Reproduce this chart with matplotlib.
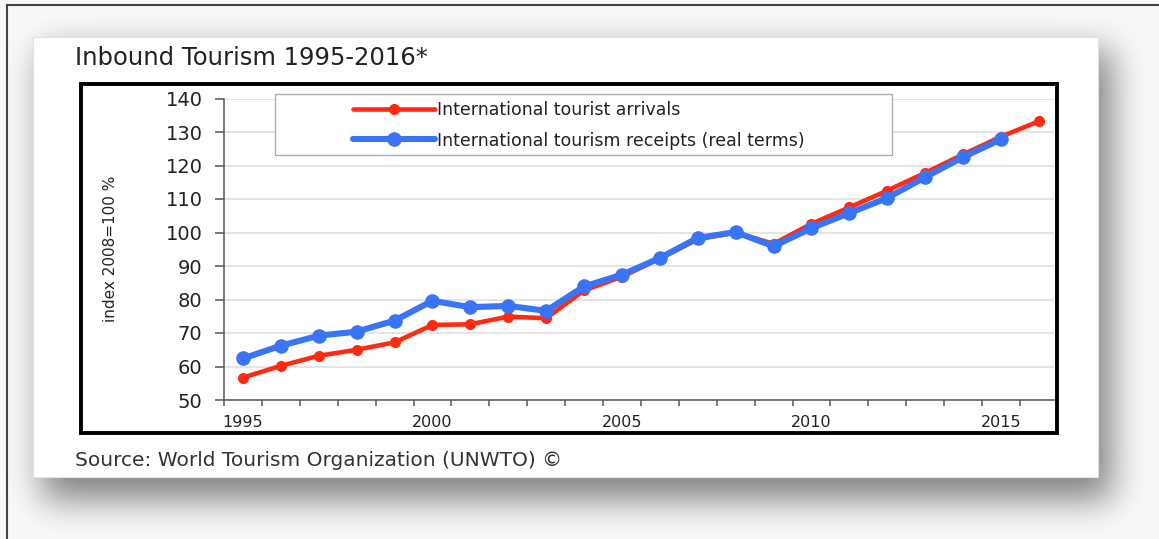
import numpy as np
import matplotlib
matplotlib.use("Agg")
import matplotlib.pyplot as plt
from matplotlib.patches import Rectangle
from matplotlib.lines import Line2D

# ---------------- data ----------------
years = list(range(1995, 2017))
arrivals = [56.7, 60.2, 63.2, 65.0, 67.2, 72.4, 72.6, 74.9, 74.4, 82.7, 86.8,
            92.2, 98.0, 100.0, 96.6, 102.6, 107.5, 112.5, 117.8, 123.3, 128.6, 133.2]
receipt_years = list(range(1995, 2016))
receipts = [62.4, 66.2, 69.2, 70.4, 73.7, 79.6, 77.7, 78.1, 76.6, 83.9, 87.4,
            92.4, 98.4, 100.1, 95.9, 101.3, 105.8, 110.3, 116.5, 122.5, 127.8]
series_labels = ["International tourist arrivals",
                 "International tourism receipts (real terms)"]
y_ticks = [50, 60, 70, 80, 90, 100, 110, 120, 130, 140]
x_tick_labels = [1995, 2000, 2005, 2010, 2015]
title = "Inbound Tourism 1995-2016*"
source = "Source: World Tourism Organization (UNWTO) \u00a9"
ylabel = "index 2008=100 %"

# ---------------- figure ----------------
W, H = 1159, 539
fig = plt.figure(figsize=(W / 100, H / 100), dpi=100)
fig.patch.set_facecolor("#f8f8f8")


def fx(x):
    return x / W


def fy(y):
    return 1 - y / H


# soft shadow behind the card
bg = fig.add_axes([0, 0, 1, 1], zorder=-5)
bg.set_axis_off()
mask = np.zeros((H, W))
mask[50:500, 42:1112] = 1.0


def blur1d(a, sigma, axis):
    r = int(3 * sigma)
    k = np.exp(-0.5 * (np.arange(-r, r + 1) / sigma) ** 2)
    k /= k.sum()
    return np.apply_along_axis(lambda v: np.convolve(np.pad(v, r, mode="edge"), k, mode="valid"), axis, a)


sh = blur1d(blur1d(mask, 17, 0), 17, 1)
rgba = np.zeros((H, W, 4))
rgba[..., 3] = 0.47 * sh
bg.imshow(rgba, extent=(0, W, H, 0), aspect="auto", interpolation="bilinear")
bg.set_xlim(0, W)
bg.set_ylim(H, 0)

# outer lines (top / left)
fig.add_artist(Line2D([fx(7), 1], [fy(5), fy(5)], transform=fig.transFigure, color="#444444", lw=1.5))
fig.add_artist(Line2D([fx(7), fx(7)], [fy(5), 0], transform=fig.transFigure, color="#444444", lw=1.5))

# white card
fig.add_artist(Rectangle((fx(33), fy(477)), fx(1098) - fx(33), fy(37) - fy(477),
                         transform=fig.transFigure, facecolor="white", edgecolor="#e2e2e2",
                         lw=0.8, zorder=1))
# black frame
fig.add_artist(Rectangle((fx(81), fy(433)), fx(1057) - fx(81), fy(84) - fy(433),
                         transform=fig.transFigure, facecolor="none", edgecolor="black",
                         lw=2.8, zorder=2))

fig.text(fx(75), fy(58), title, fontsize=17.5, color="#222222", ha="left", va="center",
         family="DejaVu Sans", zorder=3)
fig.text(fx(75), fy(461), source, fontsize=14.5, color="#333333", ha="left", va="center",
         family="DejaVu Sans", zorder=3)

# ---------------- main axes ----------------
ax_l, ax_r, ax_t, ax_b = 224, 1054, 98.5, 400
ax = fig.add_axes([fx(ax_l), fy(ax_b), fx(ax_r) - fx(ax_l), fy(ax_t) - fy(ax_b)], zorder=10)
ax.set_facecolor("none")

year_px = 37.9
ax.set_xlim(1994.5, 1994.5 + (ax_r - ax_l) / year_px)
ax.set_ylim(50, 140)

ax.plot(years, arrivals, color="#ff2a12", lw=3.3, marker="o", markersize=8,
        markeredgewidth=0, label=series_labels[0], zorder=3, solid_capstyle="round")
ax.plot(receipt_years, receipts, color="#3a74f6", lw=4.4, marker="o", markersize=10.5,
        markeredgewidth=0, label=series_labels[1], zorder=4, solid_capstyle="round")

ax.set_yticks(y_ticks)
ax.yaxis.grid(True, color="#dcdcdc", lw=1.1)
ax.set_axisbelow(True)
ax.tick_params(axis="y", direction="out", length=6.5, width=1.1, color="#555555",
               pad=9, labelsize=14, labelcolor="#222222")

ax.set_xticks(x_tick_labels)
ax.set_xticklabels([str(v) for v in x_tick_labels])
ax.set_xticks(np.arange(1994.5, 2016, 1.0), minor=True)
ax.tick_params(axis="x", which="major", length=0, pad=11, labelsize=11.5, labelcolor="#222222")
ax.tick_params(axis="x", which="minor", direction="out", length=4, width=1.1, color="#555555")

for s in ["top", "right"]:
    ax.spines[s].set_visible(False)
for s in ["left", "bottom"]:
    ax.spines[s].set_color("#555555")
    ax.spines[s].set_linewidth(1.1)

for lab in ax.get_xticklabels() + ax.get_yticklabels():
    lab.set_family("DejaVu Sans")

# y label
ax.set_ylabel(ylabel, family="DejaVu Sans", fontsize=11, color="#222222", va="center")
ax.yaxis.set_label_coords((111 - ax_l) / (ax_r - ax_l), (ax_b - 249) / (ax_b - ax_t))

# legend box + legend
lx0, lx1, ly0, ly1 = 275, 892, 94, 155


def to_ax(x, y):
    return (x - ax_l) / (ax_r - ax_l), (ax_b - y) / (ax_b - ax_t)


bx0, by0 = to_ax(lx0, ly1)
bx1, by1 = to_ax(lx1, ly0)
ax.add_patch(Rectangle((bx0, by0), bx1 - bx0, by1 - by0, transform=ax.transAxes,
                       facecolor="white", edgecolor="#b0b0b0", lw=1.0, zorder=5,
                       clip_on=False))
leg = ax.legend(loc="upper left", bbox_to_anchor=(fx(353), fy(101)),
                bbox_transform=fig.transFigure, frameon=False, borderpad=0,
                borderaxespad=0, handlelength=4.7, handletextpad=0.12, labelspacing=0.72,
                prop={"family": "DejaVu Sans", "size": 12.5})
leg.set_zorder(6)
for t in leg.get_texts():
    t.set_color("#222222")

fig.savefig("out.png", dpi=100, facecolor=fig.get_facecolor())
